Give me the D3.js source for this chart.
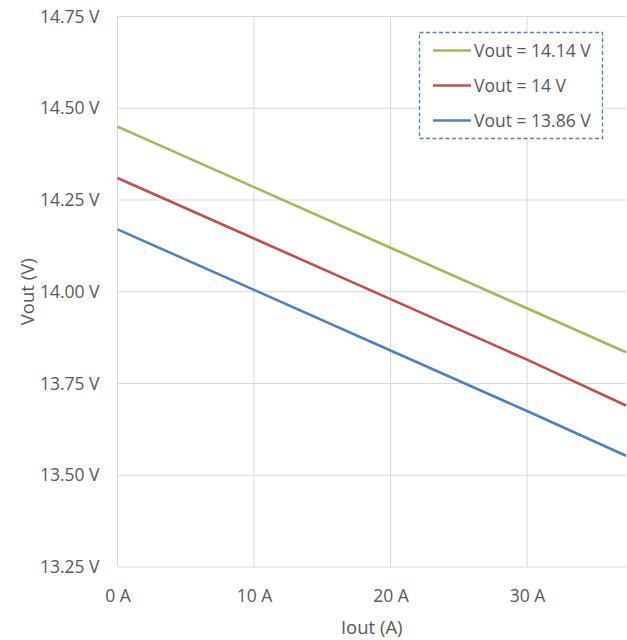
<!DOCTYPE html>
<html lang="en">
<head>
<meta charset="UTF-8">
<title>Vout vs Iout</title>
<style>
  body { margin: 0; background: #fff; }
  .tick text, .lbl { font-family: 'Open Sans', sans-serif; fill: #595959; }
  .legend text { font-family: 'Open Sans', sans-serif; fill: #595959; font-size: 17.5px; }
</style>
</head>
<body>
<div id="chart"></div>
<script src="https://d3js.org/d3.v7.min.js"></script>
<script>
// values
const iout = [0, 10, 20, 30, 37.25];
const vHigh = [14.45, 14.285, 14.12, 13.955, 13.835];
const vNom = [14.31, 14.145, 13.98, 13.815, 13.69];
const vLow = [14.17, 14.005, 13.84, 13.675, 13.553];
const seriesNames = ["Vout = 14.14 V", "Vout = 14 V", "Vout = 13.86 V"];
const colors = ["#9bbb59", "#c0504d", "#4f81bd"];
const xTicks = [0, 10, 20, 30];
const yTicks = [13.25, 13.5, 13.75, 14, 14.25, 14.5, 14.75];

const W = 627, H = 640;
const pl = 117.5, pr = 626, pt = 16.5, pb = 567;

const svg = d3.select("#chart").append("svg")
  .attr("width", W).attr("height", H);

const x = d3.scaleLinear().domain([0, 37.25]).range([pl, pr]);
const y = d3.scaleLinear().domain([13.25, 14.75]).range([pb, pt]);

// gridlines
svg.append("g").selectAll("line").data(yTicks).join("line")
  .attr("x1", pl).attr("x2", pr)
  .attr("y1", d => y(d)).attr("y2", d => y(d))
  .attr("stroke", "#d9d9d9").attr("stroke-width", 1);
svg.append("g").selectAll("line").data(xTicks).join("line")
  .attr("x1", d => x(d)).attr("x2", d => x(d))
  .attr("y1", pt).attr("y2", pb)
  .attr("stroke", "#d9d9d9").attr("stroke-width", 1);

// axes (labels only)
const yAxis = svg.append("g")
  .attr("transform", `translate(${pl},0)`)
  .call(d3.axisLeft(y).tickValues(yTicks).tickSize(0).tickPadding(18)
    .tickFormat(d => d3.format(".2f")(d) + " V"));
yAxis.select(".domain").remove();
yAxis.selectAll("text").style("font-size", "17.5px");

const xAxis = svg.append("g")
  .attr("transform", `translate(0,${pb})`)
  .call(d3.axisBottom(x).tickValues(xTicks).tickSize(0).tickPadding(23)
    .tickFormat(d => d + " A"));
xAxis.select(".domain").remove();
xAxis.selectAll("text").style("font-size", "17.5px");

// axis titles
svg.append("text").attr("class", "lbl")
  .attr("x", (pl + pr) / 2).attr("y", 634)
  .attr("text-anchor", "middle").style("font-size", "18.5px")
  .text("Iout (A)");
svg.append("text").attr("class", "lbl")
  .attr("transform", `translate(34,${(pt + pb) / 2}) rotate(-90)`)
  .attr("text-anchor", "middle").style("font-size", "18.5px")
  .text("Vout (V)");

// series lines
const series = [vHigh, vNom, vLow];
const line = d3.line().x((d, i) => x(iout[i])).y(d => y(d));
series.forEach((s, k) => {
  svg.append("path").datum(s)
    .attr("d", line)
    .attr("fill", "none")
    .attr("stroke", colors[k])
    .attr("stroke-width", 2.6);
});

// legend
const lg = svg.append("g").attr("class", "legend");
lg.append("rect")
  .attr("x", 419.5).attr("y", 32.5).attr("width", 183).attr("height", 106)
  .attr("fill", "#fff").attr("stroke", "#4f81bd")
  .attr("stroke-width", 1.3).attr("stroke-dasharray", "4,2.5");
seriesNames.forEach((name, k) => {
  const yy = 50.5 + k * 35;
  lg.append("line")
    .attr("x1", 433).attr("x2", 471).attr("y1", yy).attr("y2", yy)
    .attr("stroke", colors[k]).attr("stroke-width", 2.6);
  lg.append("text")
    .attr("x", 474).attr("y", yy).attr("dy", "0.35em")
    .text(name);
});
</script>
</body>
</html>
